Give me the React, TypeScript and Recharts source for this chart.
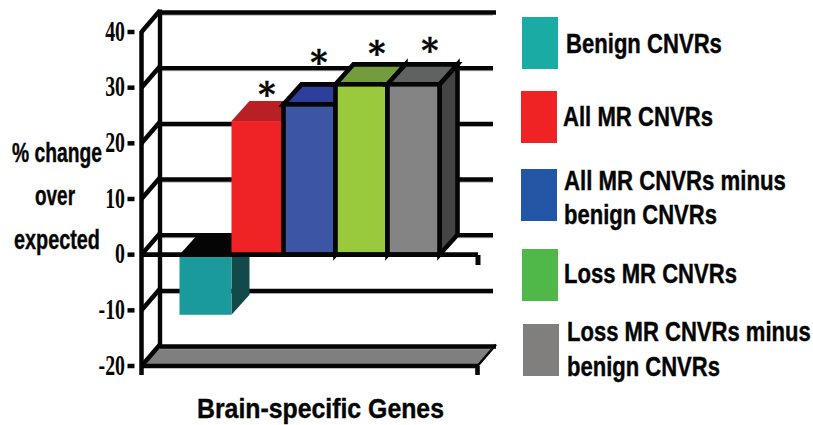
import { Bar, BarChart, CartesianGrid, ReferenceLine, XAxis, YAxis } from 'recharts';

const categories = ['Benign CNVRs', 'All MR CNVRs', 'All MR CNVRs minus benign CNVRs', 'Loss MR CNVRs', 'Loss MR CNVRs minus benign CNVRs'];
const values = [-10.8, 24, 27, 30.6, 30.6];
const yTicks = [-20, -10, 0, 10, 20, 30, 40];

const frontColors = ['#1a9a9a', '#ef2325', '#3c55a4', '#99c93d', '#848484'];
const topColors = ['#050505', '#b92025', '#2e3f9b', '#739c3c', '#5f6260'];
const sideColors = ['#124a4c', '#8f1a1c', '#26336f', '#5f7f30', '#444444'];
const outlined = [false, false, true, true, true];

const legendSwatches = [
    { fill: '#1aaca4', x: 522, y: 17 },
    { fill: '#ef2224', x: 521, y: 91 },
    { fill: '#2356a6', x: 521, y: 169 },
    { fill: '#4fb848', x: 522, y: 249 },
    { fill: '#807f7d', x: 523, y: 324 },
];
// sx = horizontal squeeze, the original type is a condensed bold
const textLines = [
    { text: 'Benign CNVRs', x: 566, y: 53, sx: 0.819 },
    { text: 'All MR CNVRs', x: 563, y: 126, sx: 0.82 },
    { text: 'All MR CNVRs minus', x: 564, y: 190, sx: 0.822 },
    { text: 'benign CNVRs', x: 564, y: 224, sx: 0.816 },
    { text: 'Loss MR CNVRs', x: 564, y: 283, sx: 0.818 },
    { text: 'Loss MR CNVRs minus', x: 567, y: 341, sx: 0.817 },
    { text: 'benign CNVRs', x: 567, y: 376, sx: 0.816 },
    { text: '% change', x: 12, y: 162, sx: 0.714 },
    { text: 'over', x: 35, y: 205, sx: 0.702 },
    { text: 'expected', x: 14, y: 249, sx: 0.734 },
];
const stars = [
    { x: 267, y: 106 },
    { x: 319, y: 74 },
    { x: 377, y: 65 },
    { x: 430, y: 62 },
];

// depth of the fake 3D
const DX = 18.5;
const DY = -19.5;
const WALL_W = 336;
const INK = '#050505';

// draws one wall line + the diagonal going back to it, floor on the lowest tick
function WallLine(props: any) {
    const { x1, y1 } = props;
    const bx = x1 + DX;
    const by = y1 + DY;
    const isFloor = Math.abs(y1 - 366) < 1;
    const isTop = Math.abs(y1 - 32) < 1;
    return (
        <g>
            {isFloor && (
                <polygon points={`${x1},${y1} ${x1 + WALL_W},${y1} ${bx + WALL_W},${by} ${bx},${by}`} fill="#7f7f7f" />
            )}
            <line x1={bx} y1={by + 2.5} x2={bx + WALL_W - 3} y2={by + 2.5} stroke="#999" strokeWidth={1} />
            <line x1={x1} y1={y1} x2={bx} y2={by - 2} stroke={INK} strokeWidth={4.5} />
            <line x1={bx} y1={by} x2={bx + WALL_W - (isFloor || isTop ? 0 : 3)} y2={by} stroke={INK} strokeWidth={4.4} />
            {isTop && <line x1={bx} y1={by - 3} x2={bx} y2={by + 334} stroke={INK} strokeWidth={4.4} />}
            {isTop && <line x1={x1} y1={y1 - 1} x2={x1} y2={y1 + 343} stroke={INK} strokeWidth={4.5} />}
            {isFloor && (
                <g>
                    <line x1={x1} y1={y1} x2={x1 + 337} y2={y1} stroke={INK} strokeWidth={4.6} />
                    <line x1={x1 + 336} y1={y1} x2={x1 + 336} y2={y1 + 9} stroke={INK} strokeWidth={4.6} />
                    <line x1={x1 + 336} y1={y1} x2={bx + WALL_W} y2={by - 2} stroke={INK} strokeWidth={2.5} />
                </g>
            )}
        </g>
    );
}

function Bar3D(props: any) {
    const { x, y, width, height, index } = props;
    const top = Math.min(y, y + height);
    const bottom = Math.max(y, y + height);
    const right = x + width;
    const dx = 18;
    const dy = -20;
    const hasOutline = outlined[index];
    const stroke = hasOutline ? INK : 'none';
    const sw = hasOutline ? 4.6 : 0;
    return (
        <g strokeLinejoin="miter">
            <polygon
                points={`${right},${top} ${right + dx},${top + dy} ${right + dx},${bottom + dy} ${right},${bottom}`}
                fill={sideColors[index]}
                stroke={stroke}
                strokeWidth={sw}
            />
            <polygon
                points={`${x},${top} ${x + dx},${top + dy} ${right + dx},${top + dy} ${right},${top}`}
                fill={topColors[index]}
                stroke={stroke}
                strokeWidth={sw}
            />
            <rect x={x} y={top} width={width} height={bottom - top} fill={frontColors[index]} stroke={stroke} strokeWidth={sw} />
        </g>
    );
}

function YTick(props: any) {
    const { x, y, payload } = props;
    return (
        <g>
            <line x1={x - 6} y1={y} x2={x + 1} y2={y} stroke={INK} strokeWidth={4.5} />
            <text
                transform={`translate(${x - 8.5},${y + 8.5}) scale(0.66,1)`}
                textAnchor="end"
                fontFamily="'Liberation Serif'"
                fontWeight={700}
                fontSize={30}
                fill={INK}
            >
                {payload.value}
            </text>
        </g>
    );
}

const chartData = categories.map((name, i) => ({ name, value: values[i] }));

export default function App() {
    return (
        <div style={{ position: 'absolute', left: 0, top: 0, width: 813, height: 425, background: '#fff' }}>
            <BarChart
                width={813}
                height={425}
                data={chartData}
                barCategoryGap={0}
                margin={{ top: 32, right: 335, bottom: 59, left: 0 }}
            >
                <CartesianGrid vertical={false} syncWithTicks horizontal={(p: any) => <WallLine key={p.key} {...p} />} />
                <XAxis dataKey="name" hide padding={{ left: 38, right: 38.5 }} />
                <YAxis
                    width={141.5}
                    domain={[-20, 40]}
                    ticks={yTicks}
                    interval={0}
                    axisLine={false}
                    tickLine={false}
                    tick={<YTick />}
                />
                <Bar dataKey="value" isAnimationActive={false} shape={<Bar3D />} />
                <ReferenceLine y={0} stroke={INK} strokeWidth={4.6} />
            </BarChart>
            <svg width={813} height={425} style={{ position: 'absolute', left: 0, top: 0, pointerEvents: 'none' }}>
                <line x1={478} y1={255} x2={478} y2={265} stroke={INK} strokeWidth={5} />
                {stars.map((s, i) => (
                    <text key={i} x={s.x} y={s.y} textAnchor="middle" fontFamily="'DejaVu Serif'" fontWeight={700} fontSize={33} fill={INK} stroke={INK} strokeWidth={0.4}>
                        *
                    </text>
                ))}
                {legendSwatches.map((s, i) => (
                    <rect key={i} x={s.x} y={s.y} width={36} height={52} fill={s.fill} />
                ))}
                {textLines.map((l, i) => (
                    <text
                        key={i}
                        transform={`translate(${l.x},${l.y}) scale(${l.sx},1)`}
                        fontFamily="'Liberation Sans'"
                        fontWeight={700}
                        fontSize={27}
                        fill={INK}
                        stroke={INK}
                        strokeWidth={0.4}
                    >
                        {l.text}
                    </text>
                ))}
                <text
                    transform="translate(197,418) scale(0.887,1)"
                    fontFamily="'Liberation Sans'"
                    fontWeight={700}
                    fontSize={28}
                    fill={INK}
                    stroke={INK}
                    strokeWidth={0.4}
                >
                    Brain-specific Genes
                </text>
            </svg>
        </div>
    );
}
